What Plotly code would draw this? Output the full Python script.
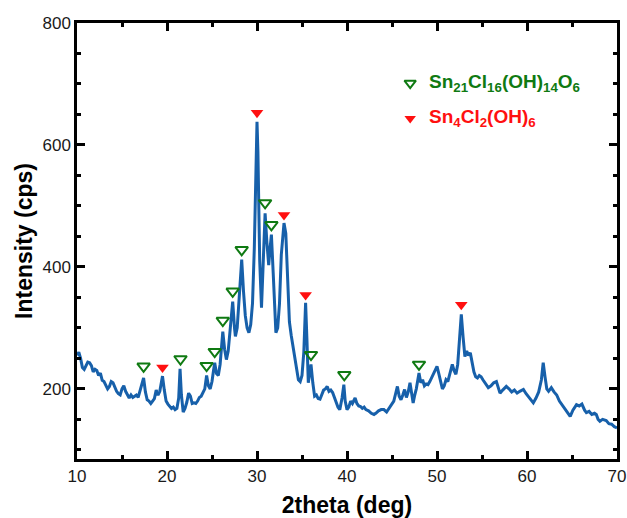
import plotly.graph_objects as go

two_theta = [10.0,10.2,10.4,10.6,10.8,11.0,11.2,11.4,11.6,11.8,12.0,12.2,12.4,12.6,12.8,13.0,13.2,13.4,13.6,13.8,
14.0,14.2,14.4,14.6,14.8,15.0,15.2,15.4,15.6,15.8,16.0,16.2,16.4,16.6,16.8,17.0,17.2,17.4,17.6,17.8,
18.0,18.2,18.4,18.6,18.8,19.0,19.2,19.4,19.5,19.7,19.9,20.1,20.3,20.5,20.7,20.9,21.1,21.3,21.45,21.6,
21.8,22.0,22.2,22.4,22.6,22.8,23.0,23.2,23.4,23.6,23.8,24.0,24.2,24.4,24.6,24.8,25.0,25.15,25.3,25.5,
25.7,25.9,26.2,26.4,26.6,26.8,27.0,27.3,27.5,27.6,27.8,28.0,28.3,28.5,28.7,28.9,29.1,29.3,29.5,29.7,
29.9,30.0,30.1,30.3,30.5,30.7,30.9,31.1,31.3,31.45,31.6,31.8,32.0,32.1,32.3,32.5,32.7,33.0,33.2,33.4,
33.6,33.8,34.0,34.2,34.4,34.6,34.8,35.0,35.2,35.4,35.55,35.7,35.85,36.0,36.2,36.4,36.6,36.8,37.0,37.2,
37.4,37.6,37.8,38.0,38.2,38.4,38.6,38.8,39.0,39.2,39.45,39.65,39.8,40.0,40.2,40.4,40.6,40.9,41.1,41.3,
41.5,41.7,41.9,42.1,42.4,42.7,43.0,43.2,43.5,43.8,44.1,44.4,44.7,45.0,45.2,45.4,45.6,45.8,46.0,46.2,
46.4,46.6,46.8,47.0,47.2,47.35,47.5,47.7,48.0,48.2,48.4,48.6,48.8,49.0,49.2,49.5,49.8,50.0,50.2,50.4,
50.6,50.8,51.0,51.2,51.5,51.7,51.9,52.1,52.3,52.5,52.7,52.9,53.1,53.3,53.5,53.7,53.9,54.1,54.3,54.5,
54.7,54.9,55.1,55.4,55.7,56.0,56.3,56.6,56.8,57.0,57.3,57.7,58.0,58.3,58.6,58.9,59.2,59.6,59.9,60.2,
60.5,60.7,61.0,61.3,61.6,61.8,62.0,62.2,62.4,62.7,63.0,63.3,63.6,63.9,64.2,64.5,64.8,65.1,65.5,65.8,
66.1,66.4,66.6,66.9,67.2,67.5,67.7,67.9,68.1,68.4,68.8,69.1,69.4,69.7,70.0]

intensity = [255,260,250,235,232,238,244,243,238,228,232,230,222,226,214,212,205,200,204,212,
210,202,196,192,190,200,205,196,190,185,190,186,188,190,186,196,205,218,195,182,
180,176,180,184,198,190,196,214,221,198,180,175,172,168,170,166,168,185,233,190,
162,168,178,193,188,176,177,176,180,186,188,193,200,222,205,200,212,228,243,225,
222,240,294,265,248,262,290,343,300,286,300,345,412,360,320,300,292,305,340,430,
590,638,590,410,333,400,488,440,403,430,453,390,305,292,300,340,420,472,455,380,
310,288,270,252,230,215,212,222,260,341,280,210,225,240,210,188,190,184,183,190,
198,200,204,196,198,194,185,176,170,166,185,207,180,166,170,180,176,185,176,172,
171,168,170,166,164,160,158,160,164,166,166,162,168,175,180,192,204,188,182,190,
199,186,195,210,190,177,188,200,226,210,215,205,208,207,212,222,232,237,225,210,
200,205,215,212,232,240,230,224,240,280,322,285,253,262,255,259,245,228,220,218,
222,220,215,208,202,205,210,212,200,193,198,204,200,195,198,193,196,199,192,186,
180,177,185,195,215,243,220,200,196,202,195,190,180,174,168,160,155,165,174,172,
175,165,161,163,158,160,158,150,147,150,148,143,142,138,136]

# Peak markers (phase identification)
green_x = [17.4, 21.5, 24.4, 25.3, 26.2, 27.3, 28.3, 30.9, 31.6, 36.0, 39.7, 48.0]
green_y = [237, 249, 238, 261, 312, 360, 428, 505, 469, 256, 223, 240]
red_x = [19.5, 30.0, 33.0, 35.4, 52.7]
red_y = [235, 653, 485, 354, 338]

green_label = "Sn<sub>21</sub>Cl<sub>16</sub>(OH)<sub>14</sub>O<sub>6</sub>"
red_label = "Sn<sub>4</sub>Cl<sub>2</sub>(OH)<sub>6</sub>"

GREEN = "#0f7a12"
RED = "#ff1010"
BLUE = "#1760aa"
FONT = "Liberation Sans, Arial, sans-serif"

fig = go.Figure()
fig.add_trace(go.Scatter(x=two_theta, y=intensity, mode="lines",
                         line=dict(color=BLUE, width=3), showlegend=False))
fig.add_trace(go.Scatter(x=green_x, y=green_y, mode="markers",
                         marker=dict(symbol="triangle-down-open", size=11,
                                     color=GREEN, line=dict(width=2, color=GREEN)),
                         showlegend=False))
fig.add_trace(go.Scatter(x=red_x, y=red_y, mode="markers",
                         marker=dict(symbol="triangle-down", size=11, color=RED,
                                     line=dict(width=0)),
                         showlegend=False))

# Legend symbols and labels
fig.add_trace(go.Scatter(x=[0.617], y=[0.862], mode="markers",
                         marker=dict(symbol="triangle-down-open", size=10,
                                     color=GREEN, line=dict(width=2, color=GREEN)),
                         showlegend=False, xaxis="x2", yaxis="y2"))
fig.add_trace(go.Scatter(x=[0.617], y=[0.781], mode="markers",
                         marker=dict(symbol="triangle-down", size=10, color=RED),
                         showlegend=False, xaxis="x2", yaxis="y2"))
fig.add_annotation(x=0.648, y=0.862, xref="paper", yref="paper", text="<b>" + green_label + "</b>",
                   showarrow=False, xanchor="left", yanchor="middle",
                   font=dict(family=FONT, size=19, color=GREEN))
fig.add_annotation(x=0.648, y=0.781, xref="paper", yref="paper", text="<b>" + red_label + "</b>",
                   showarrow=False, xanchor="left", yanchor="middle",
                   font=dict(family=FONT, size=19, color=RED))

axis_common = dict(showline=True, linecolor="black", linewidth=2.5, mirror="ticks",
                   ticks="inside", ticklen=8, tickwidth=2.5, tickcolor="black",
                   showgrid=False, zeroline=False, automargin=False,
                   tickfont=dict(family=FONT, size=17, color="#1a1a1a"))

fig.update_layout(
    width=627, height=518,
    margin=dict(l=77, r=10, t=23, b=59),
    plot_bgcolor="white", paper_bgcolor="white",
    xaxis=dict(range=[10, 70], dtick=10, tick0=10,
               minor=dict(dtick=5, ticklen=4, tickwidth=2.5, ticks="inside", tickcolor="black"),
               title=dict(text="<b>2theta (deg)</b>", font=dict(family=FONT, size=23, color="black"),
                          standoff=12),
               **axis_common),
    yaxis=dict(range=[85, 800], tickvals=[200, 400, 600, 800],
               minor=dict(tickvals=[100, 150, 250, 300, 350, 450, 500, 550, 650, 700, 750],
                          ticklen=4, tickwidth=2.5, ticks="inside", tickcolor="black"),
               title=dict(text="<b>Intensity (cps)</b>", font=dict(family=FONT, size=23, color="black"),
                          standoff=4),
               **axis_common),
    xaxis2=dict(range=[0, 1], domain=[0, 1], overlaying="x", visible=False, anchor="y2"),
    yaxis2=dict(range=[0, 1], domain=[0, 1], overlaying="y", visible=False, anchor="x2"),
)

fig.write_html("out.html")
